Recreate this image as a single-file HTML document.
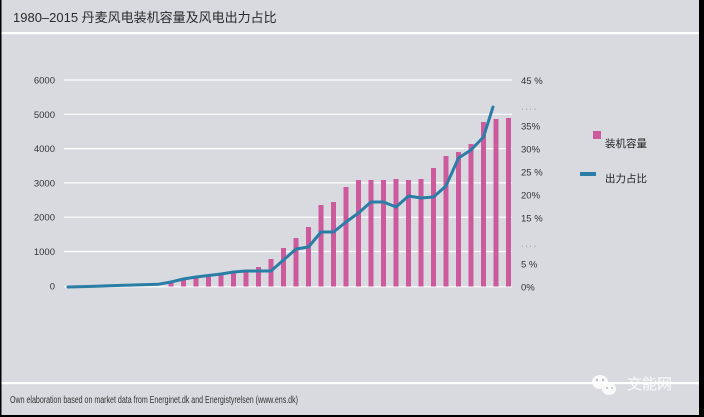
<!DOCTYPE html>
<html><head><meta charset="utf-8"><style>
html,body{margin:0;padding:0;background:#000;}
svg{display:block;}
</style></head><body>
<svg width="704" height="417" viewBox="0 0 704 417" xmlns="http://www.w3.org/2000/svg" font-family="'Liberation Sans','Noto Sans CJK SC',sans-serif">
<rect x="0" y="0" width="704" height="417" fill="#000"/>
<rect x="1.5" y="0" width="697.5" height="415" fill="#d9dae0"/>
<text x="13" y="22" font-size="13" fill="#2a2a2a">1980–2015 丹麦风电装机容量及风电出力占比</text>
<rect x="1.5" y="32" width="697.5" height="2.2" fill="#ffffff"/>
<rect x="1.5" y="382" width="697.5" height="2.2" fill="#ffffff"/>
<g stroke="#ffffff" stroke-width="1.2">
<line x1="64" y1="80" x2="512" y2="80"/>
<line x1="64" y1="114.3" x2="512" y2="114.3"/>
<line x1="64" y1="148.6" x2="512" y2="148.6"/>
<line x1="64" y1="182.9" x2="512" y2="182.9"/>
<line x1="64" y1="217.2" x2="512" y2="217.2"/>
<line x1="64" y1="251.5" x2="512" y2="251.5"/>
<line x1="64" y1="286.8" x2="512" y2="286.8"/>
</g>
<g font-size="9.5" fill="#333" text-anchor="end">
<text x="55" y="83.5">6000</text>
<text x="55" y="117.8">5000</text>
<text x="55" y="152.1">4000</text>
<text x="55" y="186.4">3000</text>
<text x="55" y="220.7">2000</text>
<text x="55" y="255">1000</text>
<text x="55" y="289.5">0</text>
</g>
<g font-size="9.5" fill="#333">
<text x="521" y="84">45 %</text>
<text x="521" y="129.5">35%</text>
<text x="521" y="152.5">30%</text>
<text x="521" y="175.5">25 %</text>
<text x="521" y="198.5">20%</text>
<text x="521" y="221.5">15 %</text>
<text x="521" y="267.5">5 %</text>
<text x="521" y="290.5">0%</text>
</g>
<g fill="#555" font-size="7">
<text x="521" y="111">· · · ·</text>
<text x="521" y="248">· · · ·</text>
</g>
<g fill="#cc5a9c">
<rect x="168.5" y="282" width="5" height="4.5"/>
<rect x="181" y="280" width="5" height="6.5"/>
<rect x="193.5" y="276" width="5" height="10.5"/>
<rect x="206" y="275" width="5" height="11.5"/>
<rect x="218.5" y="273" width="5" height="13.5"/>
<rect x="231" y="271" width="5" height="15.5"/>
<rect x="243.5" y="270" width="5" height="16.5"/>
<rect x="256" y="267" width="5" height="19.5"/>
<rect x="268.5" y="259" width="5" height="27.5"/>
<rect x="281" y="248" width="5" height="38.5"/>
<rect x="293.5" y="238" width="5" height="48.5"/>
<rect x="306" y="227" width="5" height="59.5"/>
<rect x="318.5" y="205" width="5" height="81.5"/>
<rect x="331" y="202" width="5" height="84.5"/>
<rect x="343.5" y="187" width="5" height="99.5"/>
<rect x="356" y="180" width="5" height="106.5"/>
<rect x="368.5" y="180" width="5" height="106.5"/>
<rect x="381" y="180" width="5" height="106.5"/>
<rect x="393.5" y="179" width="5" height="107.5"/>
<rect x="406" y="180" width="5" height="106.5"/>
<rect x="418.5" y="179" width="5" height="107.5"/>
<rect x="431" y="168" width="5" height="118.5"/>
<rect x="443.5" y="156" width="5" height="130.5"/>
<rect x="456" y="152" width="5" height="134.5"/>
<rect x="468.5" y="144" width="5" height="142.5"/>
<rect x="481" y="122" width="5" height="164.5"/>
<rect x="493.5" y="119" width="5" height="167.5"/>
<rect x="506" y="118" width="5" height="168.5"/>
</g>
<polyline fill="none" stroke="#2a7ea6" stroke-width="3" stroke-linejoin="round" stroke-linecap="round"
points="68,287 83.5,286.6 96,286.2 108.5,285.8 121,285.4 133.5,285 146,284.6 158.5,284.2 171,282 183.5,279 196,277 208.5,275.5 221,274 233.5,272 246,271 258.5,271 271,271 283.5,260 296,249 308.5,247 321,232 333.5,232 346,222 358.5,213 371,202 383.5,202 396,207 408.5,196 421,198 433.5,197 446,186 458.5,158 471,150 483.5,137 493,107"/>
<rect x="593" y="131" width="8" height="8" fill="#cc5a9c"/>
<text x="605" y="147" font-size="10.5" fill="#222">装机容量</text>
<rect x="580" y="172" width="16" height="4" fill="#2a7ea6"/>
<text x="605" y="182" font-size="10.5" fill="#222">出力占比</text>
<text x="10" y="403" font-size="10" fill="#333" textLength="288" lengthAdjust="spacingAndGlyphs">Own elaboration  based on market data from Energinet.dk and Energistyrelsen  (www.ens.dk)</text>
<g fill="#ffffff" opacity="0.85">
<ellipse cx="600" cy="382" rx="8" ry="7"/>
<ellipse cx="609" cy="389" rx="7" ry="6"/>
</g>
<g fill="#bbbcc2">
<circle cx="597" cy="380" r="1.2"/><circle cx="603" cy="380" r="1.2"/>
<circle cx="607" cy="388" r="1"/><circle cx="612" cy="388" r="1"/>
</g>
<text x="627" y="389" font-size="15" fill="#ffffff" opacity="0.9">交能网</text>
</svg>
</body></html>
